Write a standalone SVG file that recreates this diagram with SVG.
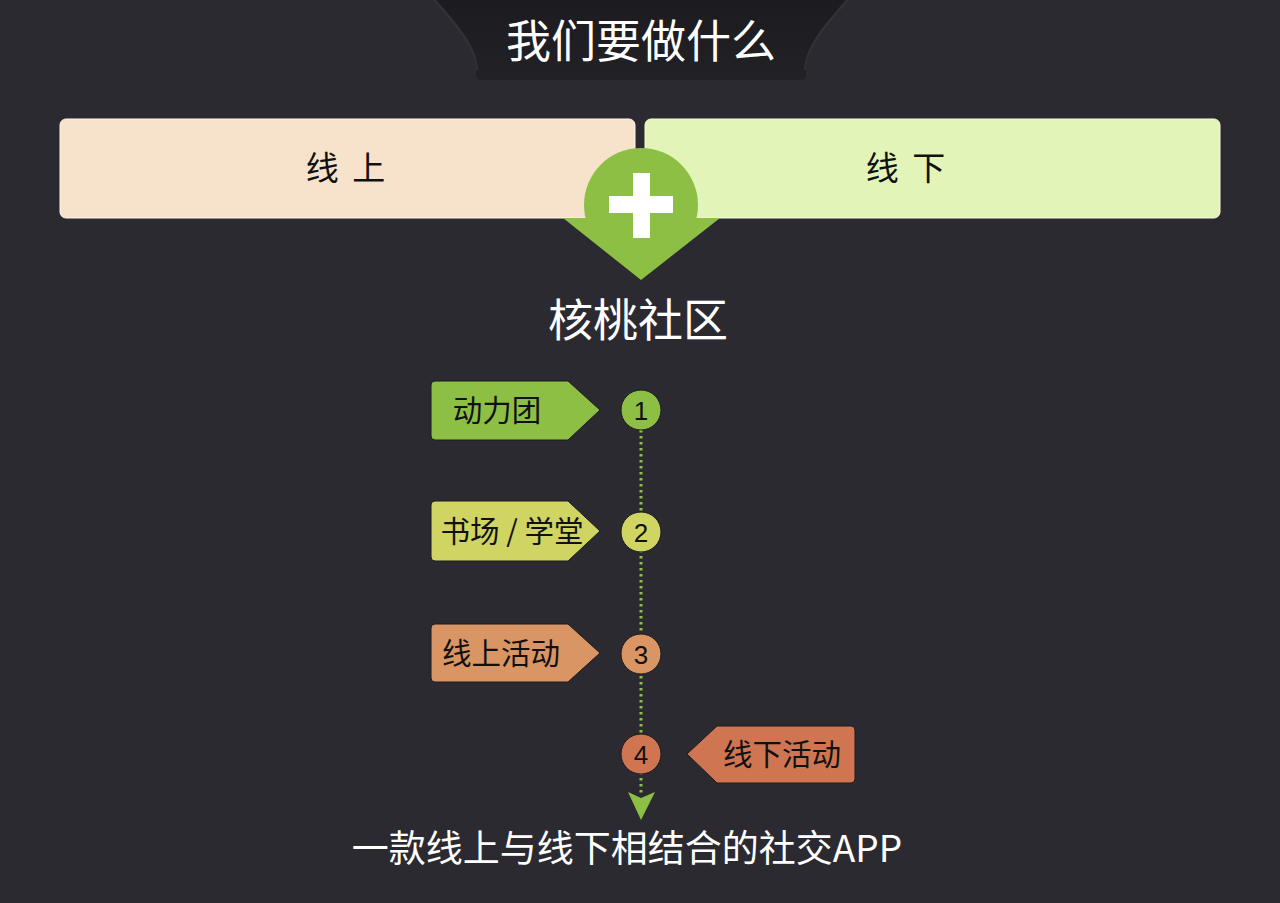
<svg xmlns="http://www.w3.org/2000/svg" width="1280" height="903" viewBox="0 0 1280 903">
<style>
.cjk{font-family:"Noto Sans CJK SC","Noto Sans",sans-serif}
.num{font-family:"Liberation Sans",Arial,sans-serif;font-size:26px}
.white{fill:#ffffff}
.dark{fill:#111111}
.tagstroke{stroke:#1c1b1f;stroke-width:1}
.lbl{font-size:29.5px}
.edge{fill:none;stroke:#3a383f;stroke-width:2;opacity:0.7}
</style>
<defs>
<linearGradient id="tabg" x1="0" y1="0" x2="0" y2="1">
<stop offset="0" stop-color="#1c1b1f"/>
<stop offset="1" stop-color="#222126"/>
</linearGradient>
</defs>
<rect x="0" y="0" width="1280" height="903" fill="#2c2a31"/>
<g id="title">
<path d="M435 0 L847 0 C832 18 806 45 806 70 L806 75 Q806 80 801 80 L481 80 Q476 80 476 75 L476 70 C476 45 450 18 435 0 Z" fill="url(#tabg)"/>
<path d="M434 -1 C450 18 477 45 477 70" class="edge"/>
<path d="M848 -1 C832 18 805 45 805 70" class="edge"/>
<text x="641" y="58" text-anchor="middle" font-size="45" class="cjk white">我们要做什么</text>
</g>
<g id="online">
<rect x="60" y="119" width="575" height="99" rx="6" fill="#f7e3cb" stroke="#fff6ea" stroke-width="1"/>
<text x="347" y="180" text-anchor="middle" font-size="33" letter-spacing="3" class="cjk dark">线 上</text>
</g>
<g id="offline">
<rect x="645" y="119" width="575" height="99" rx="6" fill="#e3f4b8" stroke="#f3fcdc" stroke-width="1"/>
<text x="907" y="180" text-anchor="middle" font-size="33" letter-spacing="3" class="cjk dark">线 下</text>
</g>
<g id="plus">
<path d="M563 218 L720 218 L641 280 Z" fill="#8cbf44"/>
<circle cx="641" cy="205" r="57" fill="#8cbf44"/>
<rect x="609" y="196" width="64" height="17" fill="#ffffff"/>
<rect x="633" y="173" width="17" height="65" fill="#ffffff"/>
</g>
<g id="community">
<text x="638" y="337" text-anchor="middle" font-size="45" class="cjk white">核桃社区</text>
</g>
<g id="connectors">
<line x1="641" y1="430" x2="641" y2="796" stroke="#8cbf44" stroke-width="3" stroke-dasharray="2.5 3.5"/>
<path d="M628 792 L641 798 L655 792 L641 820 Z" fill="#8cbf44"/>
</g>
<g id="step1">
<path d="M435 381 L568 381 L600 410 L568 440 L435 440 Q431 440 431 436 L431 385 Q431 381 435 381 Z" fill="#8cbf44" class="tagstroke"/>
<text x="497" y="421" text-anchor="middle" class="cjk dark lbl">动力团</text>
<circle cx="641" cy="410" r="20" fill="#8cbf44" class="tagstroke"/>
<text x="641" y="419.5" text-anchor="middle" class="num dark">1</text>
</g>
<g id="step2">
<path d="M435 501 L568 501 L600 531 L568 561 L435 561 Q431 561 431 557 L431 505 Q431 501 435 501 Z" fill="#cfd462" class="tagstroke"/>
<text x="512" y="542" text-anchor="middle" class="cjk dark lbl">书场 / 学堂</text>
<circle cx="641" cy="532" r="20" fill="#cfd462" class="tagstroke"/>
<text x="641" y="541.5" text-anchor="middle" class="num dark">2</text>
</g>
<g id="step3">
<path d="M435 624 L568 624 L600 653 L568 682 L435 682 Q431 682 431 678 L431 628 Q431 624 435 624 Z" fill="#d99563" class="tagstroke"/>
<text x="501" y="664" text-anchor="middle" class="cjk dark lbl">线上活动</text>
<circle cx="641" cy="654" r="20" fill="#d99563" class="tagstroke"/>
<text x="641" y="663.5" text-anchor="middle" class="num dark">3</text>
</g>
<g id="step4">
<path d="M851 726 L717 726 L687 754 L717 783 L851 783 Q855 783 855 779 L855 730 Q855 726 851 726 Z" fill="#cf7551" class="tagstroke"/>
<text x="782" y="765" text-anchor="middle" class="cjk dark lbl">线下活动</text>
<circle cx="641" cy="754" r="20" fill="#cf7551" class="tagstroke"/>
<text x="641" y="763.5" text-anchor="middle" class="num dark">4</text>
</g>
<g id="summary">
<text x="627" y="862" text-anchor="middle" font-size="37" class="cjk white">一款线上与线下相结合的社交APP</text>
</g>
</svg>
